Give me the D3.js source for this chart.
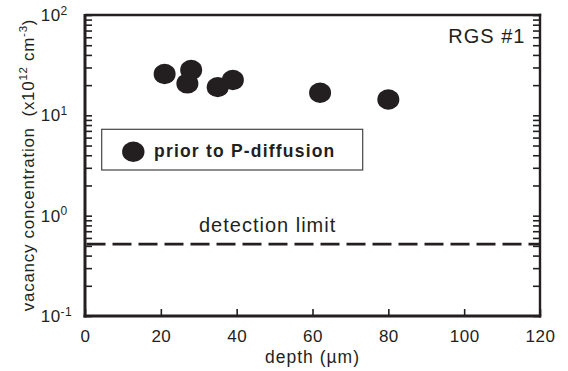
<!DOCTYPE html>
<html>
<head>
<meta charset="utf-8">
<script src="https://cdn.jsdelivr.net/npm/d3@7/dist/d3.min.js"></script>
<style>
  body { margin: 0; background: #fff; }
  svg { display: block; font-family: "Liberation Sans", Arial, sans-serif; }
</style>
</head>
<body>
<svg id="chart" width="568" height="371"></svg>
<script>
// data
const depth = [21, 28, 27, 35, 39, 62, 80];
const vacancy = [25.8, 28.3, 20.8, 19.1, 22.5, 16.8, 14.4];
const detectionLimit = 0.52;
const xTicks = [0, 20, 40, 60, 80, 100, 120];
const yDecades = [-1, 0, 1, 2];

const ink = "#231f20";
const svg = d3.select("#chart");

const pL = 85, pR = 540, pT = 15, pB = 316;

const x = d3.scaleLinear().domain([0, 120]).range([pL, pR]);
const y = d3.scaleLog().domain([0.1, 100]).range([pB, pT]);

// minor ticks 1..9 per decade
let yMinor = [];
for (let e = -1; e < 2; e++) {
  for (let m = 1; m <= 9; m++) yMinor.push(m * Math.pow(10, e));
}
yMinor.push(100);

// left axis ticks (inward)
svg.append("g")
  .attr("transform", "translate(" + pL + ",0)")
  .call(d3.axisLeft(y).tickValues(yMinor).tickSize(-7).tickFormat(""))
  .call(g => g.select(".domain").remove())
  .selectAll("line").attr("stroke", ink).attr("stroke-width", 1.6);

// right axis ticks (inward)
svg.append("g")
  .attr("transform", "translate(" + pR + ",0)")
  .call(d3.axisRight(y).tickValues(yMinor).tickSize(-7).tickFormat(""))
  .call(g => g.select(".domain").remove())
  .selectAll("line").attr("stroke", ink).attr("stroke-width", 1.6);

// bottom axis
const xa = svg.append("g")
  .attr("transform", "translate(0," + pB + ")")
  .call(d3.axisBottom(x).tickValues(xTicks).tickSize(-7).tickPadding(13.5));
xa.select(".domain").remove();
xa.selectAll("line").attr("stroke", ink).attr("stroke-width", 1.6);
xa.selectAll("text")
  .attr("fill", ink)
  .attr("font-size", 17)
  .attr("letter-spacing", 0.5)
  .attr("font-family", "Liberation Sans, Arial, sans-serif");

// frame
svg.append("line").attr("x1", pL).attr("x2", pL).attr("y1", pT - 1).attr("y2", pB + 1.5)
  .attr("stroke", ink).attr("stroke-width", 3);
svg.append("line").attr("x1", pL - 1.5).attr("x2", pR + 1.2).attr("y1", pB).attr("y2", pB)
  .attr("stroke", ink).attr("stroke-width", 3);
svg.append("line").attr("x1", pL).attr("x2", pR + 1.2).attr("y1", pT).attr("y2", pT)
  .attr("stroke", ink).attr("stroke-width", 2.4);
svg.append("line").attr("x1", pR).attr("x2", pR).attr("y1", pT - 1.2).attr("y2", pB + 1.5)
  .attr("stroke", ink).attr("stroke-width", 2.4);

// y tick labels 10^n
yDecades.forEach(e => {
  const t = svg.append("text")
    .attr("x", 40.7)
    .attr("y", y(Math.pow(10, e)) + 6)
    .attr("fill", ink)
    .attr("font-size", 17)
    .attr("letter-spacing", 0.5);
  t.append("tspan").text("10");
  t.append("tspan").attr("dy", -6.5).attr("font-size", 12).text(e < 0 ? "-" + (-e) : e);
});

// detection limit line
svg.append("line")
  .attr("x1", x(0) + 1.5).attr("x2", x(120))
  .attr("y1", y(detectionLimit)).attr("y2", y(detectionLimit))
  .attr("stroke", ink).attr("stroke-width", 2.8)
  .attr("stroke-dasharray", "19,7");

svg.append("text")
  .attr("x", 199).attr("y", 231.7)
  .attr("fill", ink).attr("font-size", 20).attr("letter-spacing", 1)
  .text("detection limit");

// data points
svg.append("g").selectAll("ellipse")
  .data(depth.map((d, i) => [d, vacancy[i]]))
  .join("ellipse")
  .attr("cx", d => x(d[0]))
  .attr("cy", d => y(d[1]))
  .attr("rx", 11)
  .attr("ry", 10.2)
  .attr("fill", ink);

// RGS #1
svg.append("text")
  .attr("x", 525.5).attr("y", 43.3)
  .attr("text-anchor", "end")
  .attr("fill", ink).attr("font-size", 20).attr("letter-spacing", 1)
  .text("RGS #1");

// legend
svg.append("rect")
  .attr("x", 101.7).attr("y", 129.3).attr("width", 261).attr("height", 40.7)
  .attr("fill", "none").attr("stroke", "#444").attr("stroke-width", 1.2);
svg.append("ellipse")
  .attr("cx", 133.3).attr("cy", 151.7).attr("rx", 11.2).attr("ry", 10.2)
  .attr("fill", ink);
svg.append("text")
  .attr("x", 154).attr("y", 157)
  .attr("fill", ink).attr("font-size", 17.5).attr("font-weight", "bold").attr("letter-spacing", 1.2)
  .text("prior to P-diffusion");

// axis titles
svg.append("text")
  .attr("x", (pL + pR) / 2).attr("y", 363.3)
  .attr("text-anchor", "middle")
  .attr("fill", ink).attr("font-size", 17.5).attr("letter-spacing", 1)
  .text("depth (µm)");

const yl = svg.append("text")
  .attr("transform", "translate(33.5,165) rotate(-90)")
  .attr("text-anchor", "middle")
  .style("white-space", "pre")
  .attr("fill", ink).attr("font-size", 17).attr("letter-spacing", 0.7);
yl.append("tspan").text("vacancy concentration  (x10");
yl.append("tspan").attr("dy", -7).attr("font-size", 11.5).text("12");
yl.append("tspan").attr("dy", 7).text(" cm");
yl.append("tspan").attr("dy", -7).attr("font-size", 11.5).text("-3");
yl.append("tspan").attr("dy", 7).text(")");
</script>
</body>
</html>
